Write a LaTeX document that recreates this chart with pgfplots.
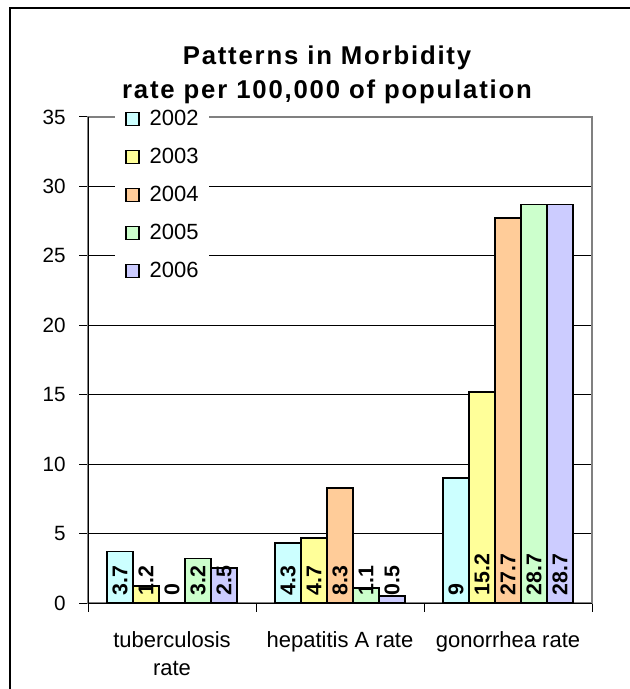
\documentclass[border=0pt]{standalone}
\usepackage{fontspec}
\setmainfont{Liberation Sans}
\newfontfamily\titlefont[LetterSpace=7]{Liberation Sans}
\usepackage{pgfplots}
\pgfplotsset{compat=1.18}
\definecolor{c2002}{HTML}{CCFFFF}
\definecolor{c2003}{HTML}{FFFF99}
\definecolor{c2004}{HTML}{FFCC99}
\definecolor{c2005}{HTML}{CCFFCC}
\definecolor{c2006}{HTML}{CCCCFF}
\pgfplotsset{
  mylegend/.style={legend image code/.code={\draw[##1, line width=1pt] (0pt,-4.8pt) rectangle (9.75pt,4.95pt);}}
}
\begin{document}
\begin{tikzpicture}
\useasboundingbox (0,0) rectangle (471.75pt,516.75pt);
\draw[line width=1.5pt] (7.5pt,-5pt) -- (7.5pt,510.75pt) -- (480pt,510.75pt);
\begin{axis}[
  at={(66pt,64.5pt)}, anchor=south west,
  scale only axis, width=378pt, height=364.5pt,
  ybar=0pt, bar width=19.5pt,
  xmin=-0.5, xmax=2.5, ymin=0, ymax=35,
  ytick={0,5,10,15,20,25,30,35},
  xtick={-0.5,0.5,1.5,2.5},
  xticklabels={},
  extra x ticks={0,1,2},
  extra x tick labels={{tuberculosis\\rate}, hepatitis A rate, gonorrhea rate},
  extra x tick style={major tick length=0pt, grid=none},
  xtick pos=bottom, ytick pos=left,
  major tick length=6.5pt,
  tick style={black, line width=0.75pt},
  tick align=outside,
  ymajorgrids, grid style={black, line width=0.7pt},
  axis line style={draw=gray, line width=1.4pt},
  /pgf/number format/assume math mode=true,
  yticklabel style={inner sep=0pt, xshift=-10pt, font=\fontsize{15.5}{21}\selectfont},
  xticklabel style={align=center, inner sep=0pt, yshift=-21pt, font=\fontsize{16.5}{21}\selectfont},
  every axis plot/.append style={draw=black, line width=1.3pt},
  nodes near coords,
  visualization depends on={y \as \rawy},
  every node near coord/.append style={shift={(axis direction cs:0,-\rawy)}, rotate=90, anchor=west, inner sep=0pt, inner xsep=5pt, font=\fontsize{16}{18}\selectfont\bfseries, text=black},
  legend style={at={(0.0536,1.035)}, anchor=north west, draw=none, fill=white, inner sep=7.5pt,
    font=\fontsize{16.5}{18}\selectfont, row sep=15.55pt, nodes={inner sep=0pt},
    /tikz/every odd column/.style={column sep=7.5pt}},
  legend cell align=left,
]
\addplot[fill=c2002, mylegend] coordinates {(0,3.7) (1,4.3) (2,9)};
\addplot[fill=c2003, mylegend] coordinates {(0,1.2) (1,4.7) (2,15.2)};
\addplot[fill=c2004, mylegend] coordinates {(0,0) (1,8.3) (2,27.7)};
\addplot[fill=c2005, mylegend] coordinates {(0,3.2) (1,1.1) (2,28.7)};
\addplot[fill=c2006, mylegend] coordinates {(0,2.5) (1,0.5) (2,28.7)};
\legend{2002,2003,2004,2005,2006}
\draw[black, line width=0.75pt] (rel axis cs:0,1) -- (rel axis cs:0,0) -- (rel axis cs:1,0);
\end{axis}
\node[anchor=north, inner sep=0pt, align=center, font=\titlefont\bfseries\fontsize{19.3}{25.7}\selectfont] at (245.25pt,482.5pt) {Patterns in Morbidity\\rate per 100,000 of population};
\end{tikzpicture}
\end{document}
